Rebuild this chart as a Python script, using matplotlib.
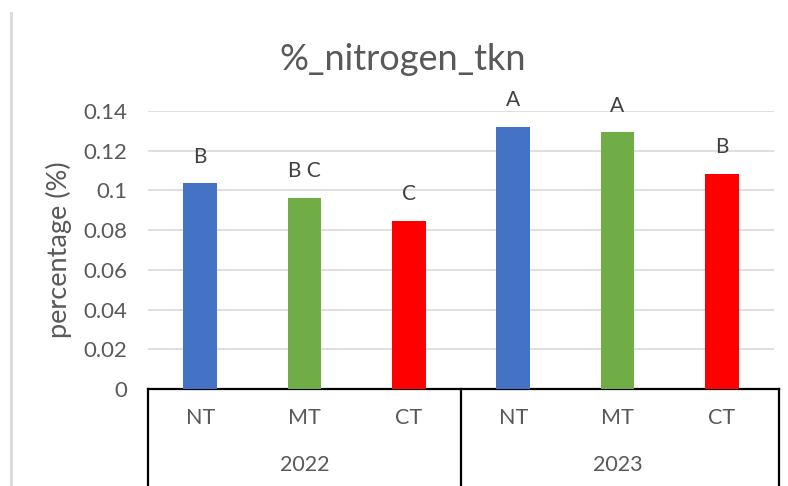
import matplotlib
matplotlib.use("Agg")
import matplotlib.pyplot as plt
from matplotlib.lines import Line2D

plt.rcParams['font.family'] = ['Lato', 'DejaVu Sans']

years = ["2022", "2023"]
tillage = ["NT", "MT", "CT"]
values = [0.1036, 0.0962, 0.0846, 0.1320, 0.1293, 0.1085]
letters = ["B", "B C", "C", "A", "A", "B"]
colors = ["#4472C4", "#70AD47", "#FF0000", "#4472C4", "#70AD47", "#FF0000"]
yticks = [0, 0.02, 0.04, 0.06, 0.08, 0.1, 0.12, 0.14]
ytick_labels = ["0", "0.02", "0.04", "0.06", "0.08", "0.1", "0.12", "0.14"]

W, H = 788, 486
fig = plt.figure(figsize=(W / 100, H / 100), dpi=100)
ax = fig.add_axes([148 / W, (H - 389) / H, 626 / W, 278 / H])

n = len(values)
xs = list(range(n))
ax.bar(xs, values, width=0.32, color=colors, zorder=3)

ax.set_xlim(-0.5, n - 0.5)
ax.set_ylim(0, 0.14)
ax.set_yticks(yticks)
ax.set_yticklabels(ytick_labels, fontsize=16, color="#595959")
ax.tick_params(axis="y", length=0, pad=15)
ax.set_xticks([])
ax.grid(axis="y", color="#D9D9D9", linewidth=1.2, zorder=0)
for s in ["top", "right", "left", "bottom"]:
    ax.spines[s].set_visible(False)

ax.set_ylabel("percentage (%)", fontsize=19.5, color="#595959", labelpad=8)

# significance letters above each bar
for x, v, t in zip(xs, values, letters):
    ax.annotate(t, (x, v), xytext=(0, 12), textcoords="offset points",
                ha="center", va="bottom", fontsize=15, color="#404040")

fig.text(403 / W, 1 - 60 / H, "%_nitrogen_tkn", fontsize=26, color="#595959",
         ha="center", va="center")

# two-level category axis drawn below the plot
depth = -(486 - 389) / 278
lk = dict(color="black", linewidth=1.6, clip_on=False, transform=ax.transAxes)
ax.add_line(Line2D([0, 1.008], [0, 0], **lk))
for xa in [0, 0.5, 1.008]:
    ax.add_line(Line2D([xa, xa], [0, depth], **lk))

for i, x in enumerate(xs):
    ax.text(x, -(418 - 389) / 278, tillage[i % 3], ha="center", va="center",
            fontsize=15.5, color="#595959",
            transform=ax.get_xaxis_transform())
for g, yr in enumerate(years):
    ax.text(g * 3 + 1, -(465 - 389) / 278, yr, ha="center", va="center",
            fontsize=15.5, color="#595959",
            transform=ax.get_xaxis_transform())

# light frame edge on the left
fig.add_artist(Line2D([10.5 / W, 10.5 / W], [0, 1 - 13 / H],
                      color="#D9D9D9", linewidth=2, transform=fig.transFigure))

fig.savefig("out.png", dpi=100, facecolor="white")
